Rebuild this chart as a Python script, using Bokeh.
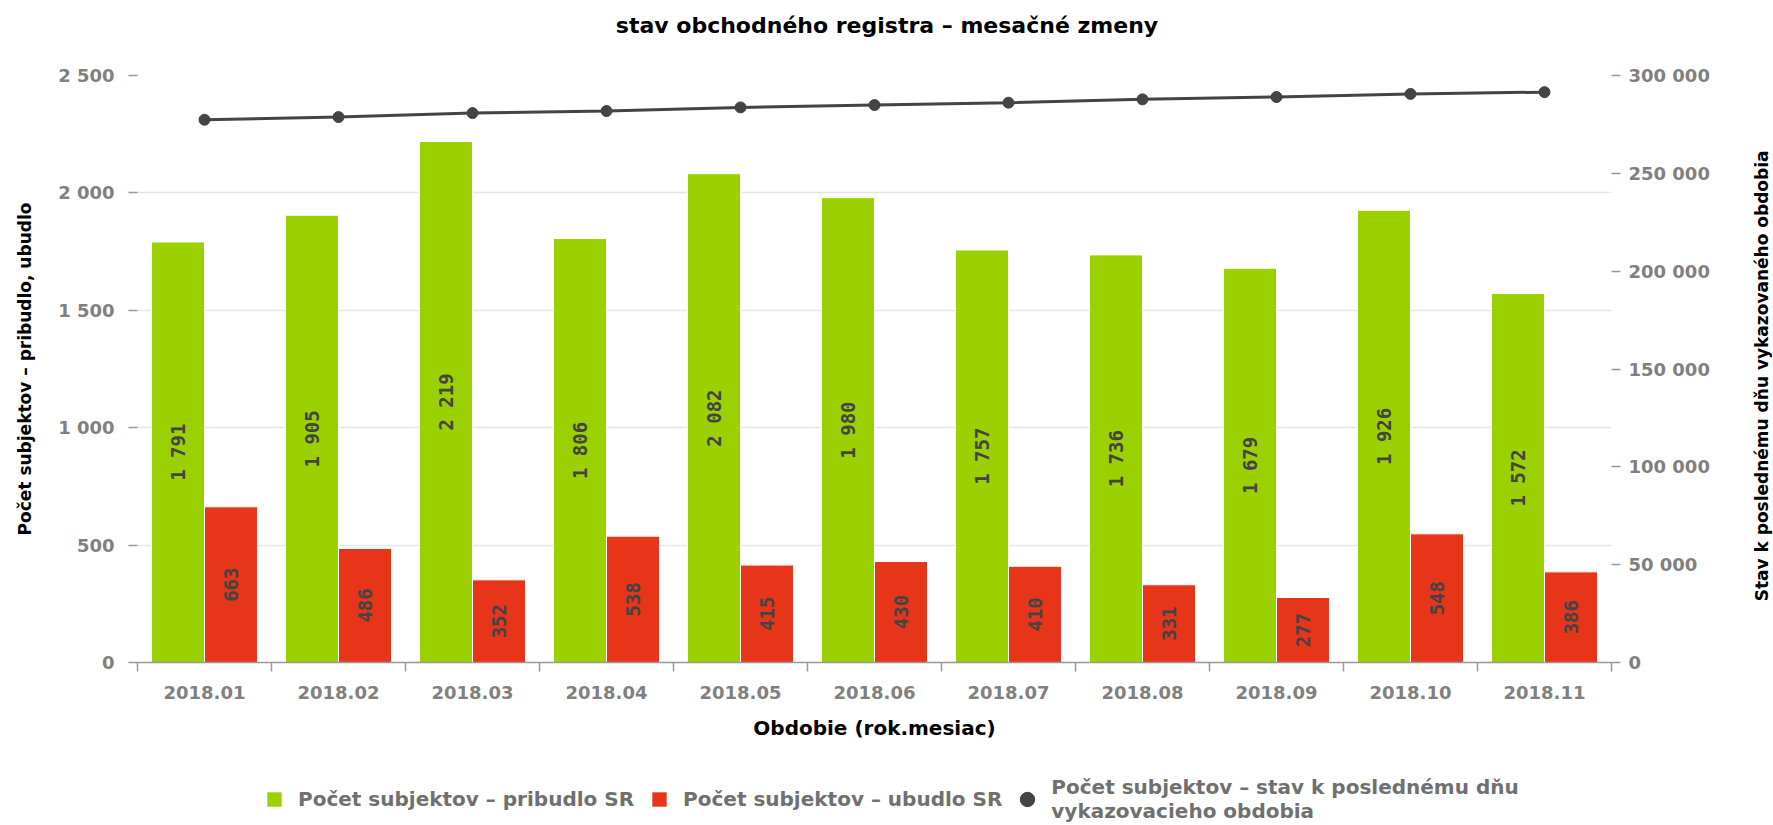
import math
import numpy as np
from bokeh.plotting import figure
from bokeh.layouts import column, row
from bokeh.models import (Range1d, LinearAxis, FixedTicker, ColumnDataSource,
                          Legend, LegendItem, Grid, Label)
from bokeh.core.properties import value
from bokeh.embed import file_html
from bokeh.resources import INLINE

categories = ["2018.01", "2018.02", "2018.03", "2018.04", "2018.05", "2018.06",
              "2018.07", "2018.08", "2018.09", "2018.10", "2018.11"]
pribudlo = [1791, 1905, 2219, 1806, 2082, 1980, 1757, 1736, 1679, 1926, 1572]
ubudlo = [663, 486, 352, 538, 415, 430, 410, 331, 277, 548, 386]
stav = [277400, 278750, 280800, 281850, 283700, 284900, 286100, 287800,
        289000, 290600, 291500]
left_ticks = [0, 500, 1000, 1500, 2000, 2500]
right_ticks = [0, 50000, 100000, 150000, 200000, 250000, 300000]

TITLE = "stav obchodného registra – mesačné zmeny"
YLABEL = "Počet subjektov – pribudlo, ubudlo"
Y2LABEL = "Stav k poslednému dňu vykazovaného obdobia"
XLABEL = "Obdobie (rok.mesiac)"
LEG1 = "Počet subjektov – pribudlo SR"
LEG2 = "Počet subjektov – ubudlo SR"
LEG3 = "Počet subjektov – stav k poslednému dňu\nvykazovacieho obdobia"

GREEN = "#9BD100"
RED = "#E7351A"
LINE = "#434348"
FONT = "DejaVu Sans"
TICKC = "#808080"

W = 1773
H_TITLE = 50
H_MAIN = 720
H_LEG = 55
W_RIGHT = 30              # strip holding the right axis title
BL, BR = 137, W - 1611    # borders so that all strips share one plot frame
AXIS_TITLE_SIZE = "17px"


def fmt(v):
    return f"{v:,}".replace(",", " ")


n = len(categories)
centers = np.arange(n) + 0.5
off = 0.198
bw = 0.396

src = ColumnDataSource(dict(
    xc=centers, xg=centers - off, xr=centers + off,
    g=pribudlo, r=ubudlo, s=stav,
    gmid=[v / 2 for v in pribudlo], rmid=[v / 2 for v in ubudlo],
    glab=[fmt(v) for v in pribudlo], rlab=[fmt(v) for v in ubudlo],
))


def strip(width, height, bl, br, xr):
    f = figure(width=width, height=height, output_backend="svg",
               toolbar_location=None, x_range=Range1d(*xr),
               y_range=Range1d(0, height), min_border_left=bl,
               min_border_right=br, min_border_top=0, min_border_bottom=0,
               outline_line_color=None, x_axis_type=None, y_axis_type=None)
    f.xgrid.visible = False
    f.ygrid.visible = False
    return f


# ---- title strip
tp = strip(W, H_TITLE, BL, BR, (BL, W - BR))
tp.add_layout(Label(x=W / 2, y=H_TITLE - 25, text=TITLE, text_align="center",
                    text_baseline="middle", text_font=FONT, text_font_style="bold",
                    text_font_size="22px", text_color="#000000"))

# ---- main chart
W_MAIN = W - W_RIGHT
p = figure(width=W_MAIN, height=H_MAIN, output_backend="svg", toolbar_location=None,
           x_range=Range1d(0, n), y_range=Range1d(0, 2500),
           min_border_left=BL, min_border_right=W_MAIN - 1611,
           min_border_top=75 - H_TITLE, min_border_bottom=H_TITLE + H_MAIN - 662,
           outline_line_color=None, x_axis_type=None, y_axis_type=None)
p.extra_y_ranges = {"stav": Range1d(0, 300000)}

# left axis
ly = LinearAxis(ticker=FixedTicker(ticks=left_ticks),
                major_label_overrides={t: fmt(t) for t in left_ticks})
ly.axis_label = YLABEL
ly.axis_label_text_font = FONT
ly.axis_label_text_font_style = "bold"
ly.axis_label_text_font_size = AXIS_TITLE_SIZE
ly.axis_label_text_color = "#000000"
ly.axis_label_standoff = 20
ly.axis_line_color = None
ly.major_tick_in = 0
ly.major_tick_out = 9
ly.major_tick_line_color = "#999999"
ly.major_tick_line_width = 1.5
ly.minor_tick_line_color = None
ly.major_label_text_font = FONT
ly.major_label_text_font_style = "bold"
ly.major_label_text_font_size = "18px"
ly.major_label_text_color = TICKC
ly.major_label_standoff = 14
p.add_layout(ly, "left")

# right axis (its title is drawn in the strip to the right)
ry = LinearAxis(y_range_name="stav", ticker=FixedTicker(ticks=right_ticks),
                major_label_overrides={t: fmt(t) for t in right_ticks})
ry.axis_line_color = None
ry.major_tick_in = 0
ry.major_tick_out = 9
ry.major_tick_line_color = "#999999"
ry.major_tick_line_width = 1.5
ry.minor_tick_line_color = None
ry.major_label_text_font = FONT
ry.major_label_text_font_style = "bold"
ry.major_label_text_font_size = "18px"
ry.major_label_text_color = TICKC
ry.major_label_standoff = 8
p.add_layout(ry, "right")

# x axis: labels at centers (major), ticks at category boundaries (minor)
xa = LinearAxis(ticker=FixedTicker(ticks=list(centers), minor_ticks=list(range(n + 1))),
                major_label_overrides={float(c): cat for c, cat in zip(centers, categories)})
xa.axis_label = XLABEL
xa.axis_label_text_font = FONT
xa.axis_label_text_font_style = "bold"
xa.axis_label_text_font_size = "20px"
xa.axis_label_text_color = "#000000"
xa.axis_label_standoff = 14
xa.axis_line_color = "#999999"
xa.axis_line_width = 1.5
xa.major_tick_line_color = None
xa.major_tick_in = 0
xa.major_tick_out = 0
xa.minor_tick_in = 0
xa.minor_tick_out = 9
xa.minor_tick_line_color = "#999999"
xa.minor_tick_line_width = 1.5
xa.major_label_text_font = FONT
xa.major_label_text_font_style = "bold"
xa.major_label_text_font_size = "18px"
xa.major_label_text_color = TICKC
xa.major_label_standoff = 14
p.add_layout(xa, "below")

# grid
grid = Grid(dimension=1, ticker=ly.ticker, grid_line_color="#e6e6e6",
            grid_line_width=1.5)
p.add_layout(grid)

# bars
p.vbar(x="xg", top="g", width=bw, bottom=0, source=src, fill_color=GREEN,
       line_color="white", line_width=1)
p.vbar(x="xr", top="r", width=bw, bottom=0, source=src, fill_color=RED,
       line_color="white", line_width=1)

# data labels
for xcol, ycol, tcol in (("xg", "gmid", "glab"), ("xr", "rmid", "rlab")):
    p.text(x=xcol, y=ycol, text=tcol, source=src, angle=math.pi / 2,
           text_align="center", text_baseline="middle",
           text_font=value("DejaVu Sans Mono"), text_font_style="bold",
           text_font_size="19px", text_color="#444444")

# line
p.line(x="xc", y="s", source=src, y_range_name="stav", line_color=LINE,
       line_width=3)
p.scatter(x="xc", y="s", source=src, y_range_name="stav", size=11,
          fill_color=LINE, line_color=LINE)

# ---- right strip with the secondary axis title (reads bottom to top)
rs = strip(W_RIGHT, H_MAIN, 0, 0, (0, W_RIGHT))
rs.add_layout(Label(x=1761 - W_MAIN, y=H_MAIN - 368.5, text=Y2LABEL,
                    angle=math.pi / 2, text_align="center", text_baseline="middle",
                    text_font=FONT, text_font_style="bold",
                    text_font_size=AXIS_TITLE_SIZE, text_color="#000000"))

# ---- legend strip
lg = strip(W, H_LEG, BL, BR, (BL, W - BR))
hidden = ColumnDataSource(dict(x=[0.0], y=[-100.0], top=[-90.0], w=[1.0], h=[1.0]))
dg = lg.vbar(x="x", bottom="y", top="top", width=1, source=hidden,
             fill_color=GREEN, line_color=None)
dr = lg.vbar(x="x", bottom="y", top="top", width=1, source=hidden,
             fill_color=RED, line_color=None)
dc = lg.ellipse(x="x", y="y", width="w", height="h", source=hidden,
                fill_color=LINE, line_color=LINE)
legend = Legend(items=[LegendItem(label=LEG1, renderers=[dg]),
                       LegendItem(label=LEG2, renderers=[dr]),
                       LegendItem(label=LEG3, renderers=[dc])],
                orientation="horizontal", location=(265 - BL, 2),
                padding=0, margin=0, spacing=16, label_standoff=15,
                glyph_width=18, glyph_height=18,
                label_text_font=FONT, label_text_font_style="bold",
                label_text_font_size="20px", label_text_color="#707070",
                label_text_line_height=1.25,
                border_line_color=None, background_fill_alpha=0)
lg.add_layout(legend, "center")

layout = column(tp, row(p, rs, spacing=0), lg, spacing=0)
open("out.html", "w").write(file_html(layout, INLINE))
